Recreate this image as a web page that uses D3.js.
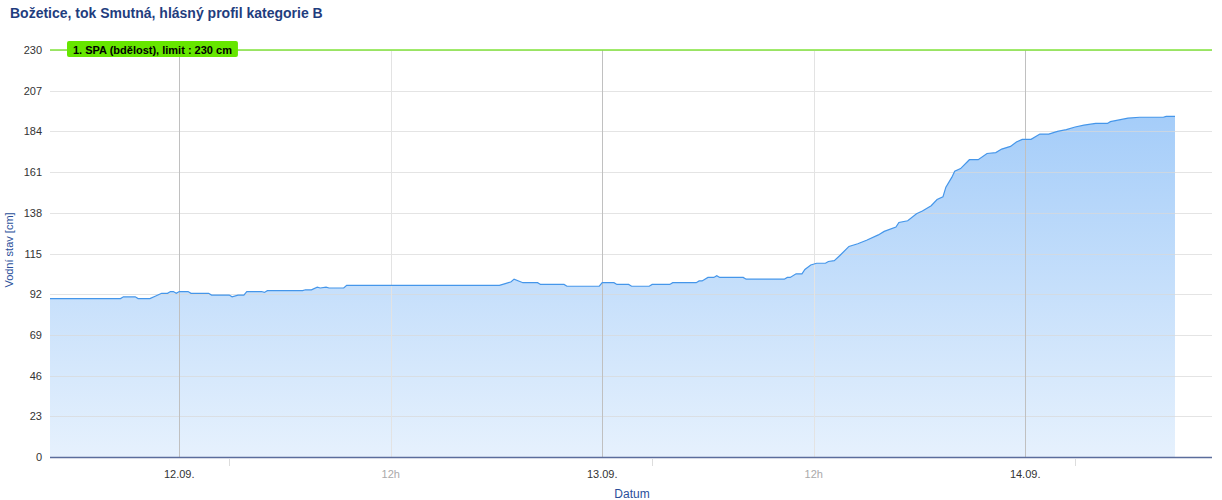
<!DOCTYPE html>
<html>
<head>
<meta charset="utf-8">
<script src="https://cdn.jsdelivr.net/npm/d3@7"></script>
<style>
  html, body { margin: 0; padding: 0; background: #fff; }
  svg { display: block; font-family: "Liberation Sans", Arial, sans-serif; }
</style>
</head>
<body>
<svg id="chart" width="1222" height="500"></svg>
<script>
// ---------- DATA ----------
const chartTitle = "Božetice, tok Smutná, hlásný profil kategorie B";
const yAxisTitle = "Vodní stav [cm]";
const xAxisTitle = "Datum";
const limitValue = 230;
const limitLabel = "1. SPA (bdělost), limit : 230 cm";
const yTicks = [0, 23, 46, 69, 92, 115, 138, 161, 184, 207, 230];
const xMajorTicks = ["2024-09-12 00:00", "2024-09-13 00:00", "2024-09-14 00:00"];
const xMajorLabels = ["12.09.", "13.09.", "14.09."];
const xMinorTicks = ["2024-09-12 12:00", "2024-09-13 12:00"];
const xMinorLabels = ["12h", "12h"];
const xSmallTicks = ["2024-09-12 02:50", "2024-09-13 02:50", "2024-09-14 02:50"];
const xDomain = ["2024-09-11 16:40", "2024-09-14 10:36"];

const times = [
  "2024-09-11 16:40","2024-09-11 20:40","2024-09-11 20:50","2024-09-11 21:30","2024-09-11 21:40",
  "2024-09-11 22:20","2024-09-11 22:40","2024-09-11 23:00","2024-09-11 23:20","2024-09-11 23:30",
  "2024-09-11 23:40","2024-09-11 23:50","2024-09-12 00:00","2024-09-12 00:30","2024-09-12 00:40",
  "2024-09-12 01:40","2024-09-12 01:50","2024-09-12 02:50","2024-09-12 03:00","2024-09-12 03:20",
  "2024-09-12 03:40","2024-09-12 03:50","2024-09-12 04:40","2024-09-12 04:50","2024-09-12 05:00",
  "2024-09-12 07:00","2024-09-12 07:10","2024-09-12 07:30","2024-09-12 07:50","2024-09-12 08:00",
  "2024-09-12 08:20","2024-09-12 08:30","2024-09-12 09:20","2024-09-12 09:30","2024-09-12 18:10",
  "2024-09-12 18:30","2024-09-12 18:50","2024-09-12 19:00","2024-09-12 19:30","2024-09-12 20:20",
  "2024-09-12 20:30","2024-09-12 21:50","2024-09-12 22:00","2024-09-12 23:50","2024-09-13 00:00",
  "2024-09-13 00:40","2024-09-13 00:50","2024-09-13 01:30","2024-09-13 01:40","2024-09-13 02:40",
  "2024-09-13 02:50","2024-09-13 03:50","2024-09-13 04:00","2024-09-13 05:20","2024-09-13 05:30",
  "2024-09-13 05:40","2024-09-13 06:00","2024-09-13 06:20","2024-09-13 06:30","2024-09-13 06:40",
  "2024-09-13 08:00","2024-09-13 08:10","2024-09-13 10:20","2024-09-13 10:30","2024-09-13 10:40",
  "2024-09-13 11:00","2024-09-13 11:20","2024-09-13 11:30","2024-09-13 11:50","2024-09-13 12:10",
  "2024-09-13 12:40","2024-09-13 12:50","2024-09-13 13:10","2024-09-13 13:30","2024-09-13 14:00",
  "2024-09-13 14:30","2024-09-13 15:00","2024-09-13 15:40","2024-09-13 16:00","2024-09-13 16:40",
  "2024-09-13 16:50","2024-09-13 17:20","2024-09-13 17:50","2024-09-13 18:10","2024-09-13 18:40",
  "2024-09-13 19:00","2024-09-13 19:20","2024-09-13 19:30","2024-09-13 19:50","2024-09-13 20:00",
  "2024-09-13 20:20","2024-09-13 20:50","2024-09-13 21:20","2024-09-13 21:50","2024-09-13 22:20",
  "2024-09-13 22:40","2024-09-13 23:10","2024-09-13 23:30","2024-09-13 23:50","2024-09-14 00:20",
  "2024-09-14 00:50","2024-09-14 01:20","2024-09-14 01:50","2024-09-14 02:20","2024-09-14 02:50",
  "2024-09-14 03:20","2024-09-14 04:00","2024-09-14 04:40","2024-09-14 04:50","2024-09-14 05:20",
  "2024-09-14 05:50","2024-09-14 06:30","2024-09-14 07:50","2024-09-14 08:00","2024-09-14 08:30"
];
const levels = [
  89.5, 89.5, 90.5, 90.5, 89.5,
  89.5, 91, 92.5, 92.5, 93.5,
  93.5, 92.5, 93.5, 93.5, 92.5,
  92.5, 91.5, 91.5, 90.5, 91.5,
  91.5, 93.5, 93.5, 93, 94,
  94, 94.5, 94.5, 96, 95.5,
  96, 95.5, 95.5, 97, 97,
  98, 99, 100.5, 98.5, 98.5,
  97.5, 97.5, 96.5, 96.5, 98.5,
  98.5, 97.5, 97.5, 96.5, 96.5,
  97.5, 97.5, 98.5, 98.5, 99.5,
  99.5, 101.5, 101.5, 102.5, 101.5,
  101.5, 100.5, 100.5, 101.5, 101.5,
  103.5, 103.5, 106, 108.5, 109.5,
  109.5, 110.5, 111, 114, 119,
  120.5, 122.5, 125.5, 127.5, 130,
  132.5, 133.5, 137.5, 139, 142,
  145.5, 147, 152.5, 158, 161.5,
  163, 168, 168, 171.5, 172,
  174, 175.5, 178, 179.5, 179.5,
  182.5, 182.5, 184, 185, 186.5,
  187.5, 188.5, 188.5, 189.5, 190.5,
  191.5, 192, 192, 192.5, 192.5
];

// ---------- CHART ----------
(function () {
const parse = d3.timeParse("%Y-%m-%d %H:%M");
const data = times.map((t, i) => ({ t: parse(t), v: levels[i] }));

const svg = d3.select("#chart");
const pLeft = 50, pRight = 1212, pTop = 50, pBottom = 457;

const x = d3.scaleTime().domain(xDomain.map(parse)).range([pLeft, pRight]);
const y = d3.scaleLinear().domain([0, 230]).range([pBottom, pTop]);

const defs = svg.append("defs");
const grad = defs.append("linearGradient").attr("id", "areaGrad")
  .attr("x1", 0).attr("y1", 0).attr("x2", 0).attr("y2", 1);
grad.append("stop").attr("offset", "0%").attr("stop-color", "#a5cdf9");
grad.append("stop").attr("offset", "100%").attr("stop-color", "#e6f1fd");

svg.append("text").attr("x", 10).attr("y", 18)
  .attr("font-size", 14).attr("font-weight", "bold").attr("fill", "#1f3d7e")
  .text(chartTitle);

const area = d3.area().x(d => x(d.t)).y0(pBottom).y1(d => y(d.v)).curve(d3.curveLinear);
const line = d3.line().x(d => x(d.t)).y(d => y(d.v)).curve(d3.curveLinear);
svg.append("path").datum(data).attr("d", area).attr("fill", "url(#areaGrad)");

// horizontal grid (visible through the area as in the reference)
svg.append("g").selectAll("line").data(yTicks.filter(d => d !== 0)).join("line")
  .attr("x1", pLeft).attr("x2", pRight)
  .attr("y1", d => Math.round(y(d)) + 0.5).attr("y2", d => Math.round(y(d)) + 0.5)
  .attr("stroke", "#d8d8d8").attr("stroke-opacity", 0.7).attr("stroke-width", 1);

svg.append("g").selectAll("line").data(xMajorTicks.map(parse)).join("line")
  .attr("x1", d => Math.round(x(d)) + 0.5).attr("x2", d => Math.round(x(d)) + 0.5)
  .attr("y1", pTop).attr("y2", pBottom)
  .attr("stroke", "#c0c0c0").attr("stroke-width", 1);
svg.append("g").selectAll("line").data(xMinorTicks.map(parse)).join("line")
  .attr("x1", d => Math.round(x(d)) + 0.5).attr("x2", d => Math.round(x(d)) + 0.5)
  .attr("y1", pTop).attr("y2", pBottom)
  .attr("stroke", "#e3e3e3").attr("stroke-width", 1);

svg.append("path").datum(data).attr("d", line)
  .attr("fill", "none").attr("stroke", "#4596ea").attr("stroke-width", 1.2);

svg.append("line").attr("x1", pLeft).attr("x2", pRight)
  .attr("y1", y(limitValue)).attr("y2", y(limitValue))
  .attr("stroke", "#80e33a").attr("stroke-width", 1.5);

const lbl = svg.append("g").attr("transform", `translate(67, ${y(limitValue) - 9})`);
const lblText = lbl.append("text").attr("x", 6).attr("y", 12.5)
  .attr("font-size", 11).attr("font-weight", "bold").attr("fill", "#000")
  .text(limitLabel);
const tw = lblText.node().getComputedTextLength();
lbl.insert("rect", "text").attr("x", 0).attr("y", 0).attr("width", tw + 12).attr("height", 16)
  .attr("rx", 2).attr("fill", "#66e600");

svg.append("line").attr("x1", pLeft).attr("x2", pRight)
  .attr("y1", pBottom + 0.5).attr("y2", pBottom + 0.5)
  .attr("stroke", "#5b6d9c").attr("stroke-width", 1.5);

svg.append("g").selectAll("line").data(xSmallTicks.map(parse)).join("line")
  .attr("x1", d => Math.round(x(d)) + 0.5).attr("x2", d => Math.round(x(d)) + 0.5)
  .attr("y1", pBottom + 2).attr("y2", pBottom + 9)
  .attr("stroke", "#dddddd").attr("stroke-width", 1);

svg.append("g").selectAll("text").data(yTicks).join("text")
  .attr("x", 42).attr("y", d => y(d) + 4)
  .attr("text-anchor", "end").attr("font-size", 11).attr("fill", "#333")
  .text(d => d);

svg.append("g").selectAll("text").data(xMajorTicks).join("text")
  .attr("x", d => x(parse(d))).attr("y", 478)
  .attr("text-anchor", "middle").attr("font-size", 11).attr("fill", "#333")
  .text((d, i) => xMajorLabels[i]);
svg.append("g").selectAll("text").data(xMinorTicks).join("text")
  .attr("x", d => x(parse(d))).attr("y", 478)
  .attr("text-anchor", "middle").attr("font-size", 11).attr("fill", "#aaaaaa")
  .text((d, i) => xMinorLabels[i]);

svg.append("text").attr("x", 632).attr("y", 498)
  .attr("text-anchor", "middle").attr("font-size", 12).attr("fill", "#2a4f9a")
  .text(xAxisTitle);
svg.append("text").attr("transform", "translate(13, 250) rotate(-90)")
  .attr("text-anchor", "middle").attr("font-size", 11).attr("fill", "#2a4f9a")
  .text(yAxisTitle);
})();
</script>
</body>
</html>
